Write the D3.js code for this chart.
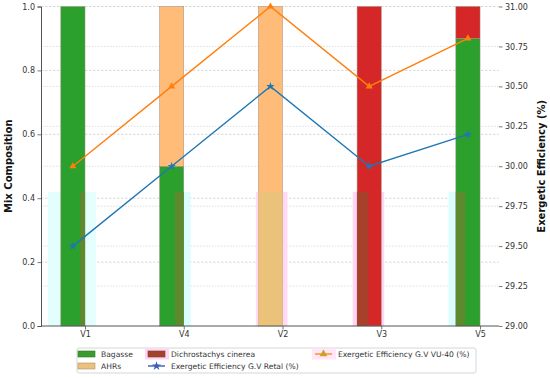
<!DOCTYPE html>
<html><head><meta charset="utf-8">
<script src="https://cdn.jsdelivr.net/npm/d3@7"></script>
<style>
html,body{margin:0;padding:0;background:#fff;}
svg{display:block;font-family:"DejaVu Sans",sans-serif;}
</style></head>
<body><svg id="chart" width="550" height="378"></svg>
<script>
// ---------- data ----------
const categories = ["V1", "V4", "V2", "V3", "V5"];
const bagasse = [1.0, 0.5, 0.0, 0.0, 0.9];
const ahrs = [0.0, 0.5, 1.0, 0.0, 0.0];
const dichrostachys = [0.0, 0.0, 0.0, 1.0, 0.1];
const effRetal = [29.5, 30.0, 30.5, 30.0, 30.2];
const effVU40 = [30.0, 30.5, 31.0, 30.5, 30.8];
const leftTicks = [0.0, 0.2, 0.4, 0.6, 0.8, 1.0];
const rightTicks = [29.0, 29.25, 29.5, 29.75, 30.0, 30.25, 30.5, 30.75, 31.0];
const overlayLevel = 0.42;

// ---------- layout / style ----------
const L = 41, R = 499, T = 6.5, B = 326;
const barW = 0.245;
const colors = { bagasse: "#2ca02c", ahrs: "#ffbb78", dich: "#d62728", retal: "#1f77b4", vu40: "#ff7f0e" };
// decorative glow/tint overlay extents (category units relative to tick)
const glowSpan = [[-0.375, 0.11], [0, 0.07], [-0.27, 0.05], [-0.29, 0.03], [-0.32, -0.24]];
const glowCol = ["#e4fefe", "#dcfdfd", "#ffdaf6", "#ffd6f6", "#dcfdfd"];
const tintSpan = [[-0.05, 0], [-0.09, 0], [-0.245, 0], [-0.245, -0.13], [-0.245, -0.15]];
const tintCol = ["#5d8a2e", "#5d8a2e", "#ebc27a", "#a8412c", "#5d8a2e"];

const svg = d3.select("#chart");
const x = d3.scaleLinear().domain([-0.4456, 4.192]).range([L, R]);
const y = d3.scaleLinear().domain([0, 1]).range([B, T]);
const y2 = d3.scaleLinear().domain([29, 31]).range([B, T]);

// gridlines
svg.append("g").selectAll("line").data(rightTicks.slice(1, -1)).join("line")
  .attr("x1", L).attr("x2", R).attr("y1", d => y2(d)).attr("y2", d => y2(d))
  .attr("stroke", "#d8d8d8").attr("stroke-width", 0.8).attr("stroke-dasharray", "1.5,1.5");
svg.append("g").selectAll("line").data(leftTicks.slice(1)).join("line")
  .attr("x1", L).attr("x2", R).attr("y1", d => y(d)).attr("y2", d => y(d))
  .attr("stroke", "#cfcfcf").attr("stroke-width", 0.8).attr("stroke-dasharray", "2.5,1.5");

// glow rects
svg.append("g").selectAll("rect").data(categories).join("rect")
  .attr("x", (d, i) => x(i + glowSpan[i][0]))
  .attr("width", (d, i) => x(i + glowSpan[i][1]) - x(i + glowSpan[i][0]))
  .attr("y", y(overlayLevel)).attr("height", y(0) - y(overlayLevel))
  .attr("fill", (d, i) => glowCol[i]);

// stacked bars
const stackData = categories.map((c, i) => ({ i, parts: [
  { v0: 0, v1: bagasse[i], c: colors.bagasse },
  { v0: bagasse[i], v1: bagasse[i] + ahrs[i], c: colors.ahrs },
  { v0: bagasse[i] + ahrs[i], v1: bagasse[i] + ahrs[i] + dichrostachys[i], c: colors.dich }
].filter(p => p.v1 > p.v0) }));
const bars = svg.append("g");
stackData.forEach(s => {
  bars.selectAll(null).data(s.parts).join("rect")
    .attr("x", x(s.i - barW)).attr("width", x(s.i) - x(s.i - barW))
    .attr("y", p => y(p.v1)).attr("height", p => y(p.v0) - y(p.v1))
    .attr("fill", p => p.c).attr("stroke", "#a09080").attr("stroke-width", 0.5);
});
// tint overlay
svg.append("g").selectAll("rect").data(categories).join("rect")
  .attr("x", (d, i) => x(i + tintSpan[i][0]))
  .attr("width", (d, i) => x(i + tintSpan[i][1]) - x(i + tintSpan[i][0]))
  .attr("y", y(overlayLevel)).attr("height", y(0) - y(overlayLevel))
  .attr("fill", (d, i) => tintCol[i]);

// lines
const cx = i => x(i - barW / 2);
function drawLine(vals, col, sym, size) {
  svg.append("path").datum(vals)
    .attr("d", d3.line().x((d, i) => cx(i)).y(d => y2(d)))
    .attr("fill", "none").attr("stroke", col).attr("stroke-width", 1.4);
  svg.append("g").selectAll("path").data(vals).join("path")
    .attr("transform", (d, i) => `translate(${cx(i)},${y2(d)})`)
    .attr("d", d3.symbol().type(sym).size(size)).attr("fill", col);
}
drawLine(effRetal, colors.retal, d3.symbolStar, 22);
drawLine(effVU40, colors.vu40, d3.symbolTriangle, 22);

// axes
const axL = svg.append("g").attr("transform", `translate(${L},0)`)
  .call(d3.axisLeft(y).tickValues(leftTicks).tickFormat(d3.format(".1f")).tickSize(3.5).tickPadding(2.5));
const axR = svg.append("g").attr("transform", `translate(${R},0)`)
  .call(d3.axisRight(y2).tickValues(rightTicks).tickFormat(d3.format(".2f")).tickSize(3.5).tickPadding(2.5));
const axB = svg.append("g").attr("transform", `translate(0,${B})`)
  .call(d3.axisBottom(x).tickValues(d3.range(categories.length)).tickFormat(i => categories[i]).tickSize(3.5).tickPadding(1.5));
[axL, axR, axB].forEach(a => {
  a.selectAll("text").attr("font-size", 8).attr("fill", "#333").attr("font-family", "DejaVu Sans");
  a.selectAll("line").attr("stroke", "#555").attr("stroke-width", 0.8);
  a.select(".domain").attr("stroke", "#555").attr("stroke-width", 1);
});
axR.select(".domain").remove();
axB.select(".domain").attr("d", `M${L},0H${R}`);

// axis titles
svg.append("text").attr("transform", `translate(12,${(T + B) / 2}) rotate(-90)`)
  .attr("text-anchor", "middle").attr("font-size", 10).attr("font-weight", "bold").attr("fill", "#111")
  .text("Mix Composition");
svg.append("text").attr("transform", `translate(545,${(T + B) / 2}) rotate(-90)`)
  .attr("text-anchor", "middle").attr("font-size", 10).attr("font-weight", "bold").attr("fill", "#111")
  .text("Exergetic Efficiency (%)");

// legend
const lg = svg.append("g");
lg.append("rect").attr("x", 77).attr("y", 348).attr("width", 399).attr("height", 25).attr("rx", 2)
  .attr("fill", "#fff").attr("stroke", "#ccc").attr("stroke-width", 0.8);
const legendItems = [
  { label: "Bagasse", type: "patch", col: "#3a9c2e", edge: "#2c7a22", col0: 0, row: 0 },
  { label: "AHRs", type: "patch", col: "#ebc27a", edge: "#b09070", col0: 0, row: 1 },
  { label: "Dichrostachys cinerea", type: "patch", col: "#a4432b", edge: "#8a3a28", glow: "#ffd6f6", col0: 1, row: 0 },
  { label: "Exergetic Efficiency G.V Retal (%)", type: "line", col: "#3a5cb8", sym: d3.symbolStar, col0: 1, row: 1 },
  { label: "Exergetic Efficiency G.V VU-40 (%)", type: "line", col: "#ff8c1a", mcol: "#d0a020", sym: d3.symbolTriangle, glow: "#ffe6f8", col0: 2, row: 0 }
];
const colX = [78, 148, 315], rowY = [354, 366];
legendItems.forEach(it => {
  const x0 = colX[it.col0], yc = rowY[it.row];
  if (it.glow) lg.append("rect").attr("x", x0 - 3).attr("y", yc - 5.5).attr("width", 24).attr("height", 11).attr("fill", it.glow);
  if (it.type === "patch") {
    lg.append("rect").attr("x", x0).attr("y", yc - 3).attr("width", 17).attr("height", 6)
      .attr("fill", it.col).attr("stroke", it.edge).attr("stroke-width", 0.6);
  } else {
    lg.append("line").attr("x1", x0).attr("x2", x0 + 17).attr("y1", yc).attr("y2", yc)
      .attr("stroke", it.col).attr("stroke-width", 1.4);
    lg.append("path").attr("transform", `translate(${x0 + 8.5},${yc})`)
      .attr("d", d3.symbol().type(it.sym).size(26)).attr("fill", it.mcol || it.col);
  }
  lg.append("text").attr("x", x0 + 23).attr("y", yc + 2.8).attr("font-size", 7.6).attr("fill", "#333")
    .text(it.label);
});
</script></body></html>
